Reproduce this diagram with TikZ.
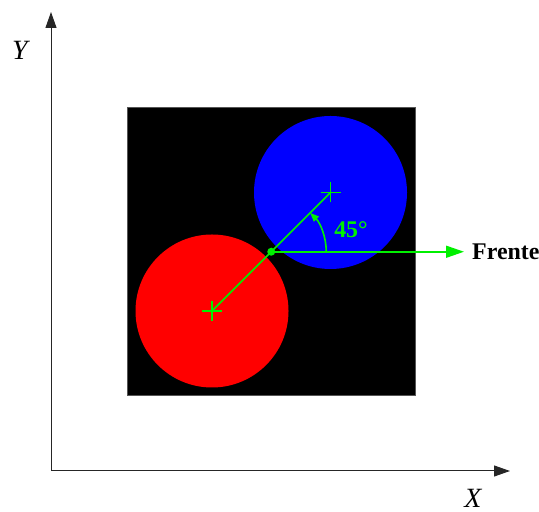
\documentclass[tikz,border=0pt]{standalone}
\usepackage{fontspec}
\setmainfont{Liberation Serif}
\usetikzlibrary{arrows.meta,positioning,calc}
\definecolor{signal}{RGB}{0,240,0}
\definecolor{ballblue}{RGB}{0,0,255}
\definecolor{ballred}{RGB}{255,0,0}
\definecolor{rim}{HTML}{555555}
\tikzset{
  axis/.style={draw=black!85,line width=1bp,-{Triangle[length=16bp,width=11bp]}},
  axlabel/.style={font=\fontsize{28}{30}\selectfont\itshape,inner sep=0pt},
  ball/.style={circle,minimum size=153bp,inner sep=0pt,draw=none},
  guide/.style={draw=signal,line width=1.6bp},
  garr/.style={guide,-{Triangle[length=18bp,width=12bp]}},
  cross/.style={guide,line width=1.2bp},
  glabel/.style={font=\fontsize{24}{26}\selectfont\bfseries,inner sep=0pt},
}
\begin{document}
\begin{tikzpicture}[x=1bp,y=1bp]
  \useasboundingbox (0,0) rectangle (539,512);
  % axes
  \coordinate (origin) at (51,41);
  \coordinate (ytip) at (51,500);
  \coordinate (xtip) at (510,41);
  \draw[axis] (origin) -- (ytip);
  \draw[axis] (origin) -- (xtip);
  \node[axlabel] (ylab) at (20,462) {Y};
  \node[axlabel] (xlab) at (473,14) {X};
  % field and balls
  \node[fill=black,draw=rim,line width=0.8bp,minimum size=288bp,inner sep=0pt] (field) at (271,260.5) {};
  \node[ball,fill=ballblue] (blue) at (330.5,319.5) {};
  \node[ball,fill=ballred] (red) at (212,201) {};
  \coordinate (contact) at ($(red.center)!0.5!(blue.center)$);
  \draw[guide] (red.center) -- (blue.center);
  \foreach \b in {red,blue}{
    \draw[cross] ([xshift=-10bp]\b.center) -- ([xshift=10bp]\b.center)
      ([yshift=-10bp]\b.center) -- ([yshift=10bp]\b.center);
  }
  \fill[signal] (contact) circle (4bp);
  % front direction
  \node[glabel,anchor=west] (frente) at (472,260.5) {Frente};
  \draw[garr,shorten >=8bp] (contact) -- (contact -| frente.west);
  \draw[guide,-{Triangle[length=9bp,width=7bp]}] ([xshift=55bp]contact)
    arc[start angle=0,end angle=45,radius=55bp];
  \node[glabel,text=signal] (angle) at (351,282) {45°};
\end{tikzpicture}
\end{document}
